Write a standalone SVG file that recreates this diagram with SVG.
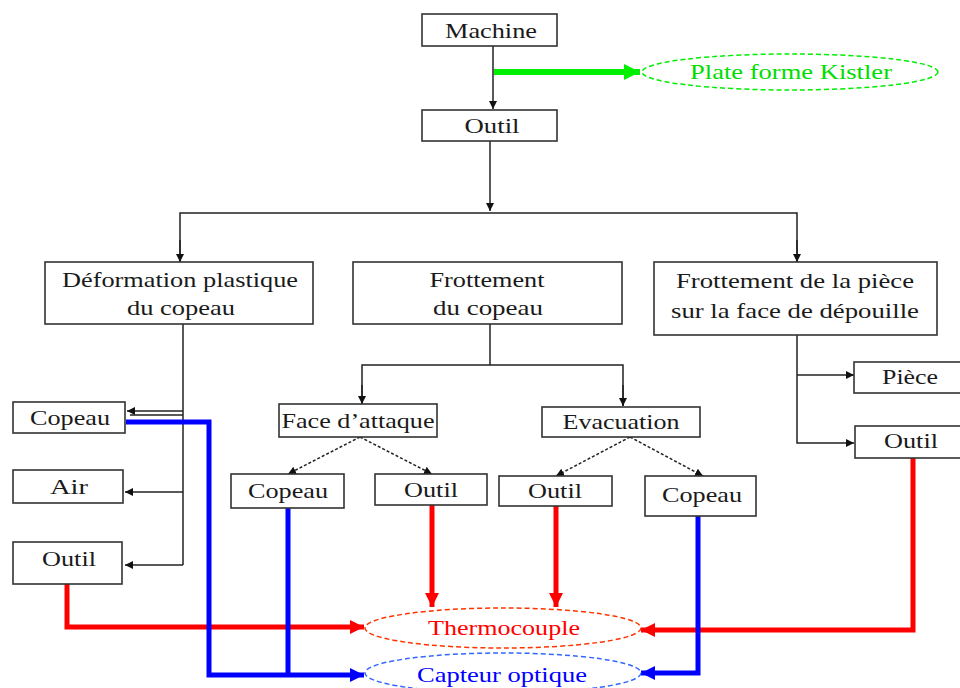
<svg xmlns="http://www.w3.org/2000/svg" width="960" height="688" viewBox="0 0 960 688">
<style>
.box{fill:#fff;stroke:#333;stroke-width:1.6}
.t{font-family:"Liberation Serif","Times New Roman",serif;font-size:21px;fill:#1a1a1a;text-anchor:middle}
.k{fill:none;stroke:#222;stroke-width:1.5}
.kd{fill:none;stroke:#222;stroke-width:1.5;stroke-dasharray:3 2}
.r{fill:none;stroke:#ff0000;stroke-width:5}
.b{fill:none;stroke:#0000ff;stroke-width:5}
.g{fill:none;stroke:#00ee00;stroke-width:6}
</style>
<defs>
<marker id="ak" viewBox="0 0 10 10" refX="10" refY="5" markerWidth="8" markerHeight="8" markerUnits="userSpaceOnUse" orient="auto"><path d="M0,0 L10,5 L0,10 z" fill="#111"/></marker>
<marker id="ar" viewBox="0 0 10 10" refX="10" refY="5" markerWidth="16" markerHeight="14" markerUnits="userSpaceOnUse" orient="auto"><path d="M0,0 L10,5 L0,10 z" fill="#ff0000"/></marker>
<marker id="ab" viewBox="0 0 10 10" refX="10" refY="5" markerWidth="16" markerHeight="14" markerUnits="userSpaceOnUse" orient="auto"><path d="M0,0 L10,5 L0,10 z" fill="#0000ff"/></marker>
<marker id="ag" viewBox="0 0 10 10" refX="10" refY="5" markerWidth="16" markerHeight="16" markerUnits="userSpaceOnUse" orient="auto"><path d="M0,0 L10,5 L0,10 z" fill="#00ee00"/></marker>
</defs>
<rect width="960" height="688" fill="#fff"/>

<g id="connectors">
<path class="k" d="M493,46 V109" marker-end="url(#ak)"/>
<path class="g" d="M494,72 H640" marker-end="url(#ag)"/>
<path class="k" d="M490,141 V211" marker-end="url(#ak)"/>
<path class="k" d="M180,262 V213 H797 V262" />
<path class="k" d="M180,240 V262" marker-end="url(#ak)"/>
<path class="k" d="M797,240 V262" marker-end="url(#ak)"/>
<path class="k" d="M183,324 V565"/>
<path class="k" d="M183,411 H127" marker-end="url(#ak)"/>
<path class="k" d="M183,415 H130"/>
<path class="k" d="M183,492 H125" marker-end="url(#ak)"/>
<path class="k" d="M183,565 H125" marker-end="url(#ak)"/>
<path class="k" d="M490,324 V365"/>
<path class="k" d="M362,404 V365 H623 V406"/>
<path class="k" d="M362,385 V404" marker-end="url(#ak)"/>
<path class="k" d="M623,385 V406" marker-end="url(#ak)"/>
<path class="kd" d="M360,437 L288,474" marker-end="url(#ak)"/>
<path class="kd" d="M360,437 L432,474" marker-end="url(#ak)"/>
<path class="kd" d="M630,437 L556,476" marker-end="url(#ak)"/>
<path class="kd" d="M630,437 L703,476" marker-end="url(#ak)"/>
<path class="k" d="M797,335 V443 H854" marker-end="url(#ak)"/>
<path class="k" d="M797,375 H854" marker-end="url(#ak)"/>
<path class="r" d="M67,584 V627 H364" marker-end="url(#ar)"/>
<path class="r" d="M432,505 V607" marker-end="url(#ar)"/>
<path class="r" d="M556,506 V607" marker-end="url(#ar)"/>
<path class="r" d="M913,458 V630 H641" marker-end="url(#ar)"/>
<path class="b" d="M126,422 H209 V675 H364" marker-end="url(#ab)"/>
<path class="b" d="M288,508 V675"/>
<path class="b" d="M698,516 V673 H641" marker-end="url(#ab)"/>
</g>

<g id="machine"><rect class="box" x="422" y="14" width="135" height="32"/><text class="t" x="491" y="38" textLength="92" lengthAdjust="spacingAndGlyphs">Machine</text></g>
<g id="kistler"><ellipse cx="790" cy="72" rx="148" ry="18" fill="none" stroke="#00ee00" stroke-width="1.5" stroke-dasharray="5 3"/><text class="t" x="791" y="79" textLength="202" lengthAdjust="spacingAndGlyphs" style="fill:#00dd00">Plate forme Kistler</text></g>
<g id="outil"><rect class="box" x="422" y="110" width="135" height="31"/><text class="t" x="492" y="133" textLength="55" lengthAdjust="spacingAndGlyphs">Outil</text></g>
<g id="deformation"><rect class="box" x="45" y="262" width="268" height="62"/><text class="t" x="180" y="287" textLength="236" lengthAdjust="spacingAndGlyphs">Déformation plastique</text><text class="t" x="181" y="315" textLength="108" lengthAdjust="spacingAndGlyphs">du copeau</text></g>
<g id="frottement-copeau"><rect class="box" x="353" y="262" width="269" height="62"/><text class="t" x="487" y="287" textLength="115" lengthAdjust="spacingAndGlyphs">Frottement</text><text class="t" x="488" y="315" textLength="110" lengthAdjust="spacingAndGlyphs">du copeau</text></g>
<g id="frottement-piece"><rect class="box" x="654" y="262" width="283" height="73"/><text class="t" x="795" y="288" textLength="238" lengthAdjust="spacingAndGlyphs">Frottement de la pièce</text><text class="t" x="795" y="318" textLength="248" lengthAdjust="spacingAndGlyphs">sur la face de dépouille</text></g>
<g id="copeau-1"><rect class="box" x="13" y="402" width="112" height="31"/><text class="t" x="70" y="425" textLength="80" lengthAdjust="spacingAndGlyphs">Copeau</text></g>
<g id="air"><rect class="box" x="13" y="470" width="110" height="33"/><text class="t" x="69" y="494" textLength="38" lengthAdjust="spacingAndGlyphs">Air</text></g>
<g id="outil-1"><rect class="box" x="13" y="542" width="109" height="42"/><text class="t" x="69" y="566" textLength="54" lengthAdjust="spacingAndGlyphs">Outil</text></g>
<g id="face-attaque"><rect class="box" x="279" y="404" width="158" height="33"/><text class="t" x="358" y="428" textLength="153" lengthAdjust="spacingAndGlyphs">Face d’attaque</text></g>
<g id="evacuation"><rect class="box" x="542" y="407" width="158" height="30"/><text class="t" x="621" y="429" textLength="117" lengthAdjust="spacingAndGlyphs">Evacuation</text></g>
<g id="copeau-2"><rect class="box" x="231" y="474" width="113" height="34"/><text class="t" x="288" y="498" textLength="80" lengthAdjust="spacingAndGlyphs">Copeau</text></g>
<g id="outil-2"><rect class="box" x="375" y="474" width="112" height="31"/><text class="t" x="431" y="497" textLength="54" lengthAdjust="spacingAndGlyphs">Outil</text></g>
<g id="outil-3"><rect class="box" x="499" y="476" width="113" height="30"/><text class="t" x="555" y="498" textLength="54" lengthAdjust="spacingAndGlyphs">Outil</text></g>
<g id="copeau-3"><rect class="box" x="645" y="476" width="111" height="40"/><text class="t" x="702" y="502" textLength="80" lengthAdjust="spacingAndGlyphs">Copeau</text></g>
<g id="piece"><rect class="box" x="854" y="362" width="110" height="31"/><text class="t" x="910" y="384" textLength="56" lengthAdjust="spacingAndGlyphs">Pièce</text></g>
<g id="outil-4"><rect class="box" x="855" y="426" width="110" height="32"/><text class="t" x="911" y="448" textLength="54" lengthAdjust="spacingAndGlyphs">Outil</text></g>
<g id="thermocouple"><ellipse cx="503" cy="628" rx="138" ry="20" fill="none" stroke="#ff3300" stroke-width="1.5" stroke-dasharray="5 3"/><text class="t" x="504" y="635" textLength="152" lengthAdjust="spacingAndGlyphs" style="fill:#ff0000">Thermocouple</text></g>
<g id="capteur"><ellipse cx="503" cy="673" rx="138" ry="20" fill="none" stroke="#3366ff" stroke-width="1.5" stroke-dasharray="5 3"/><text class="t" x="502" y="682" textLength="170" lengthAdjust="spacingAndGlyphs" style="fill:#0000ff">Capteur optique</text></g>
</svg>
